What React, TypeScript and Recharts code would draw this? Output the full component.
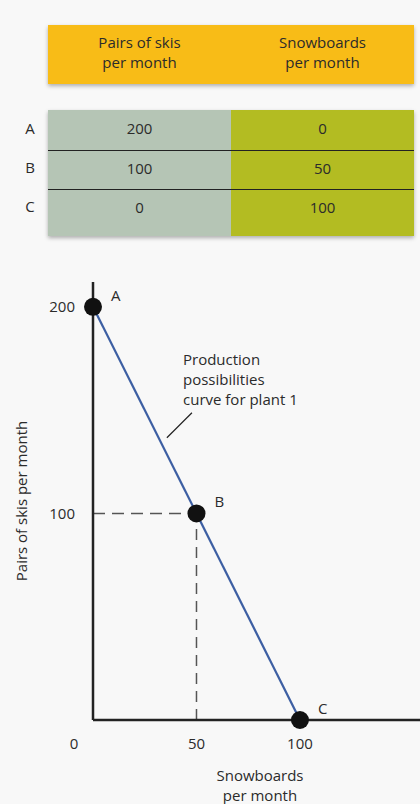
import { LineChart, Line, XAxis, YAxis, ReferenceLine, LabelList } from "recharts"

// table data
const rowNames = ["A", "B", "C"]
const skis = [200, 100, 0]
const snowboards = [0, 50, 100]
const headers = ["Pairs of skis\nper month", "Snowboards\nper month"]

// chart ticks
const xTicks = [0, 50, 100]
const yTicks = [100, 200]

// annotation leader line (data coords)
const leader = [
  { x: 35.7, y: 136.6 },
  { x: 47.8, y: 148.7 },
]

const data = rowNames.map((name, i) => ({ name, x: snowboards[i], y: skis[i] }))

const font = "'Open Sans', sans-serif"
const textColor = "#2b2b2b"

function XTick(props: any) {
  const { x, y, payload } = props
  const shift = payload.value === 0 ? -19 : 0
  return (
    <text x={x + shift} y={y} dy="0.71em" textAnchor="middle" fontSize={15} fill={textColor} fontFamily={font}>
      {payload.value}
    </text>
  )
}

function PointLabel(props: any) {
  const { x, y, value } = props
  return (
    <text x={x + 18} y={y - 10} dominantBaseline="middle" fontSize={15} fill={textColor} fontFamily={font}>
      {value}
    </text>
  )
}

const rowHeights = [40, 39, 47]

export default function App() {
  return (
    <div
      style={{
        position: "absolute",
        left: 0,
        top: 0,
        width: 420,
        height: 804,
        background: "#f8f8f8",
        fontFamily: font,
        color: textColor,
        overflow: "hidden",
      }}
    >
      {/* header box */}
      <div
        style={{
          position: "absolute",
          left: 48,
          top: 25,
          width: 366,
          height: 59,
          background: "#f8bc17",
          boxShadow: "0 2px 4px rgba(0,0,0,0.3)",
          display: "flex",
        }}
      >
        {headers.map((h) => (
          <div
            key={h}
            style={{
              width: 183,
              textAlign: "center",
              fontSize: 15,
              lineHeight: "20px",
              paddingTop: 7,
              whiteSpace: "pre-line",
            }}
          >
            {h}
          </div>
        ))}
      </div>

      {/* table body */}
      <div
        style={{
          position: "absolute",
          left: 48,
          top: 110,
          width: 366,
          boxShadow: "0 2px 4px rgba(0,0,0,0.3)",
        }}
      >
        {rowNames.map((name, i) => (
          <div
            key={name}
            style={{
              display: "flex",
              height: rowHeights[i],
              borderTop: i > 0 ? "1px solid #222" : "none",
              boxSizing: "border-box",
              fontSize: 15,
              lineHeight: "20px",
            }}
          >
            <div style={{ width: 183, background: "#b5c5b5", textAlign: "center", paddingTop: i === 0 ? 8 : 7 }}>
              {skis[i]}
            </div>
            <div style={{ width: 183, background: "#b3bc22", textAlign: "center", paddingTop: i === 0 ? 8 : 7 }}>
              {snowboards[i]}
            </div>
          </div>
        ))}
      </div>
      {rowNames.map((name, i) => (
        <div
          key={"lbl" + name}
          style={{
            position: "absolute",
            left: 22,
            width: 16,
            textAlign: "center",
            top: 110 + rowHeights.slice(0, i).reduce((a, b) => a + b, 0) + (i === 0 ? 8 : 7),
            fontSize: 15,
            lineHeight: "20px",
          }}
        >
          {name}
        </div>
      ))}

      {/* annotation */}
      <div
        style={{
          position: "absolute",
          left: 183,
          top: 349,
          fontSize: 15,
          lineHeight: "20px",
          whiteSpace: "pre-line",
        }}
      >
        {"Production\npossibilities\ncurve for plant 1"}
      </div>

      {/* x axis title */}
      <div
        style={{
          position: "absolute",
          left: 200,
          width: 120,
          top: 765,
          textAlign: "center",
          fontSize: 15,
          lineHeight: "20px",
          whiteSpace: "pre-line",
        }}
      >
        {"Snowboards\nper month"}
      </div>

      <div style={{ position: "absolute", left: 0, top: 0 }}>
        <LineChart width={420} height={804} data={data} margin={{ top: 282, right: 0, bottom: 0, left: 0 }}>
          <XAxis
            type="number"
            dataKey="x"
            domain={[0, 158]}
            ticks={xTicks}
            tick={<XTick />}
            tickLine={false}
            tickSize={0}
            tickMargin={18}
            stroke="#222"
            strokeWidth={2.5}
            height={84}
          />
          <YAxis
            type="number"
            dataKey="y"
            domain={[0, 212]}
            ticks={yTicks}
            tickLine={false}
            tickSize={0}
            tickMargin={18}
            width={93}
            stroke="#222"
            strokeWidth={2.5}
            tick={{ fontSize: 15, fill: textColor, fontFamily: font }}
            label={{
              value: "Pairs of skis per month",
              angle: -90,
              position: "insideLeft",
              offset: 22,
              style: { textAnchor: "middle", fontSize: 15, fill: textColor, fontFamily: font },
            }}
          />
          <ReferenceLine
            segment={[
              { x: 0, y: 100 },
              { x: 50, y: 100 },
            ]}
            stroke="#555"
            strokeWidth={1.5}
            strokeDasharray="12 7"
          />
          <ReferenceLine
            segment={[
              { x: 50, y: 0 },
              { x: 50, y: 100 },
            ]}
            stroke="#555"
            strokeWidth={1.5}
            strokeDasharray="11 7"
          />
          <ReferenceLine segment={leader} stroke="#222" strokeWidth={1.2} />
          <Line
            dataKey="y"
            type="linear"
            stroke="#3d5fa3"
            strokeWidth={2.2}
            dot={{ r: 9, fill: "#111", stroke: "none" }}
            activeDot={false}
            isAnimationActive={false}
          >
            <LabelList dataKey="name" content={<PointLabel />} />
          </Line>
        </LineChart>
      </div>
    </div>
  )
}
